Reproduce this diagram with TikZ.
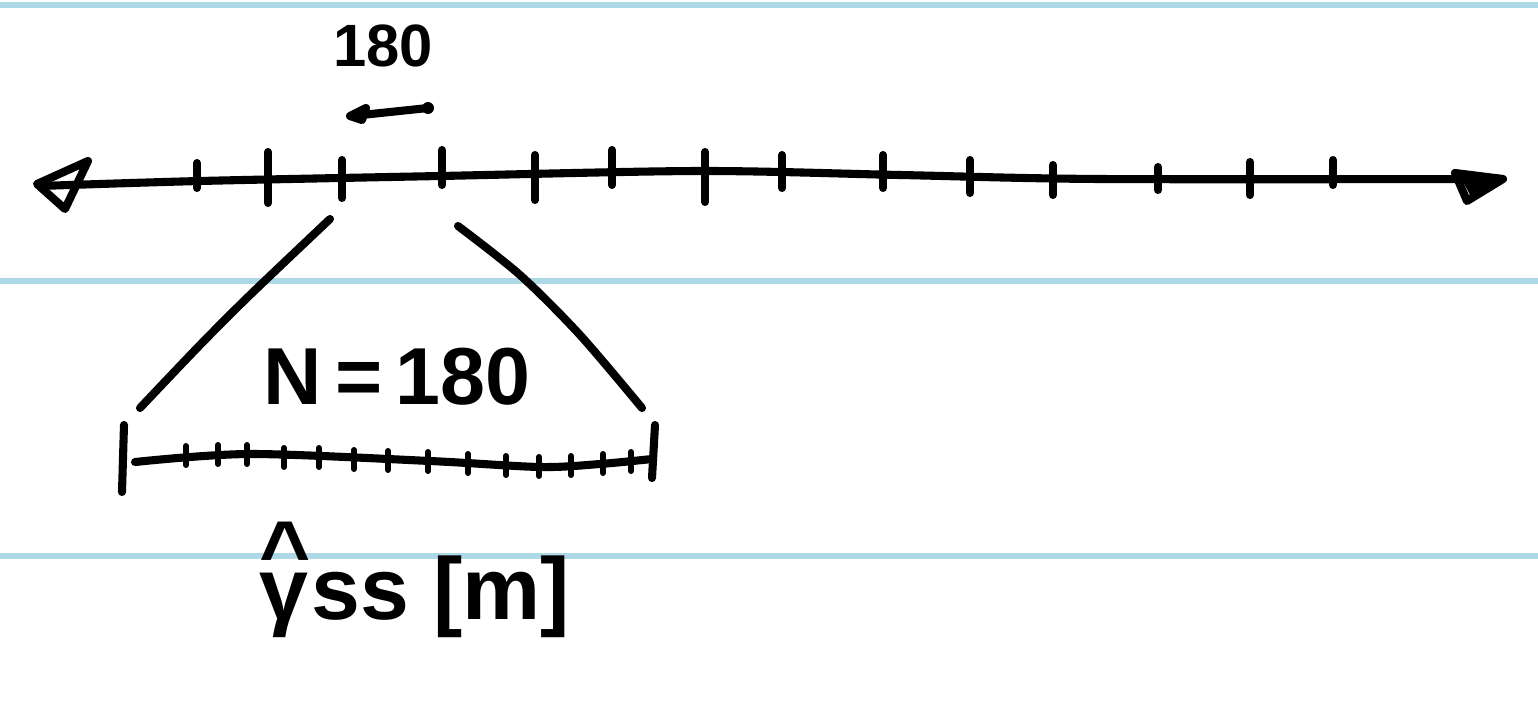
\documentclass[tikz,border=0pt]{standalone}
\usepackage{fontspec}
\setmainfont{Liberation Sans}
\newcommand\gammahatmark{{\ooalign{γ\cr\hfil\raise0.42em\hbox{\^{}}\hfil\cr}}}
\begin{document}
\begin{tikzpicture}[x=0.02cm,y=-0.02cm,
  guide/.style={draw={rgb,255:red,173;green,216;blue,230},line width=3.4pt},
  ink/.style={draw=black,line width=4.6pt,line cap=round,line join=round},
  thinink/.style={draw=black,line width=3.4pt,line cap=round,line join=round},
  lbl/.style={inner sep=0pt,text=black}]
\useasboundingbox (0,0) rectangle (1538,706);
% ruled lines
\draw[guide] (0,5) -- (1538,5);
\draw[guide] (0,281) -- (1538,281);
\draw[guide] (0,556) -- (1538,556);
% main axis
\coordinate (axL) at (40,186);
\coordinate (axR) at (1500,179);
\draw[ink] plot[smooth] coordinates {(axL) (200,181) (440,176) (700,171) (900,175) (1100,179) (axR)};
\draw[ink] (37,184) -- (88,161) -- (65,209) -- cycle;
\draw[ink] (1455,173) -- (1503,179) -- (1467,201) -- cycle;
\fill (1460,176) -- (1495,180) -- (1470,195) -- cycle;
% ticks
\foreach \x/\a/\b in {197/163/188,268/152/203,342/160/198,442/150/185,535/155/200,612/150/185,705/152/202,782/155/188,883/155/188,970/160/193,1053/165/195,1158/167/190,1250/162/195,1333/160/185}
  \draw[ink] (\x,\a) -- (\x,\b);
% small arrow and label
\node[lbl,font=\bfseries\fontsize{34}{40}\selectfont] (n180) at (383,46) {180};
\coordinate (sa) at (352,116);
\coordinate (sb) at (428,108);
\draw[ink] (sa) -- (sb);
\draw[ink] (350,116) -- (366,108) -- (362,120) -- cycle;
\fill (sb) circle (6);
% zoom lines
\draw[ink] plot[smooth] coordinates {(330,219) (250,295) (200,345) (140,408)};
\draw[ink] plot[smooth] coordinates {(458,226) (520,275) (580,335) (642,408)};
% N = 180
\node[lbl,font=\bfseries\fontsize{46}{54}\selectfont] (nlab) at (397,377) {N\,=\,180};
% small ruler
\draw[ink] (124,425) -- (122,492);
\draw[ink] (655,425) -- (652,478);
\draw[ink] plot[smooth] coordinates {(135,462) (250,454) (430,461) (540,467) (600,464) (652,459)};
\foreach \x/\y in {186/455,218/454,247/454,284/457,319/457,354/459,388/460,428/461,468/463,506/465,539/466,571/465,603/463,631/461}
  \draw[thinink] (\x,\y-9) -- (\x,\y+10);
% axis label
\node[lbl,font=\bfseries\fontsize{50}{58}\selectfont] (glab) at (415,597) {\gammahatmark ss [m]};
\end{tikzpicture}
\end{document}
